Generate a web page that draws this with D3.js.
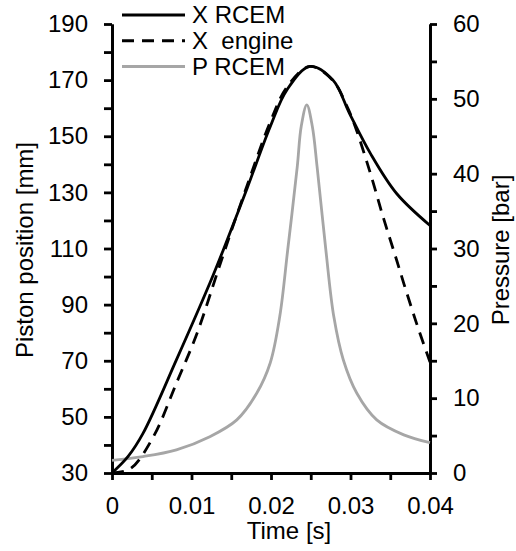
<!DOCTYPE html>
<html>
<head>
<meta charset="utf-8">
<script src="https://cdn.jsdelivr.net/npm/d3@7"></script>
<style>
    body { margin: 0; background: #fff; }
    svg text { font-family: "Liberation Sans", Arial, sans-serif; fill: #000; }
</style>
</head>
<body>
<svg id="chart" width="516" height="551"></svg>
<script>

// Piston position of the RCEM [mm]
const timeRcem = [0, 0.002, 0.0039, 0.0081, 0.0123, 0.014, 0.017, 0.0199, 0.022, 0.0249, 0.0278, 0.0299, 0.0325, 0.0358, 0.04];
const xRcem = [30, 35.8, 44.1, 70.3, 97.6, 109.5, 131.5, 153.4, 166.5, 174.9, 170, 158, 143.9, 129.6, 118.2];

// Piston position of the engine [mm]
const timeEngine = [0, 0.0023, 0.0052, 0.0081, 0.0107, 0.0132, 0.0142, 0.017, 0.0199, 0.022, 0.0249, 0.0278, 0.0295, 0.0306, 0.0325, 0.0341, 0.0358, 0.0367, 0.0383, 0.04];
const xEngine = [30, 31.5, 42.9, 62, 79.8, 101, 109.5, 132.5, 155, 167.5, 174.9, 169.8, 161, 153.4, 136.8, 121.3, 105.9, 97.6, 83.4, 69.5];

// Pressure in the RCEM [bar]
const timeP = [0, 0.0039, 0.0081, 0.0123, 0.0157, 0.0182, 0.0199, 0.0211, 0.0221, 0.0233, 0.0238, 0.0245, 0.0252, 0.0258, 0.0269, 0.0279, 0.0291, 0.0308, 0.0333, 0.0367, 0.04];
const pRcem = [1.7, 2.2, 3.1, 4.85, 7.1, 10.65, 14.7, 20.9, 29.8, 40.9, 46.3, 49.2, 46.3, 40.9, 29.8, 20.9, 15.1, 10.65, 7.1, 5.1, 4.05];

// Ticks
const xTicks = [0, 0.01, 0.02, 0.03, 0.04];
const xTickLabels = ["0", "0.01", "0.02", "0.03", "0.04"];
const xMinor = [0.005, 0.015, 0.025, 0.035];
const leftTicks = [30, 50, 70, 90, 110, 130, 150, 170, 190];
const leftMinor = [40, 60, 80, 100, 120, 140, 160, 180];
const rightTicks = [0, 10, 20, 30, 40, 50, 60];
const rightMinor = [5, 15, 25, 35, 45, 55];

const legendNames = ["X RCEM", "X  engine", "P RCEM"];

var svg = d3.select("#chart");

const margin = { top: 24, right: 86, bottom: 78, left: 112 };
const width = 516, height = 551;
const innerWidth = width - margin.left - margin.right;
const innerHeight = height - margin.top - margin.bottom;

const fontSize = 24;
const lineW = 2.8;

var xScale = d3.scaleLinear().domain([0, 0.04]).range([margin.left, margin.left + innerWidth]);
var yLeft = d3.scaleLinear().domain([30, 190]).range([margin.top + innerHeight, margin.top]);
var yRight = d3.scaleLinear().domain([0, 60]).range([margin.top + innerHeight, margin.top]);

function styleAxis(g) {
    g.select(".domain").attr("stroke", "#000").attr("stroke-width", lineW);
    g.selectAll(".tick line").attr("stroke", "#000").attr("stroke-width", lineW);
    g.selectAll(".tick text").style("font-size", fontSize + "px").attr("fill", "#000");
}

// minor ticks first, then major axes with labels
svg.append("g")
    .attr("transform", `translate(0,${margin.top + innerHeight})`)
    .call(d3.axisBottom(xScale).tickValues(xMinor).tickSize(7).tickSizeOuter(0).tickFormat(""))
    .call(styleAxis);
svg.append("g")
    .attr("transform", `translate(${margin.left},0)`)
    .call(d3.axisLeft(yLeft).tickValues(leftMinor).tickSize(8).tickSizeOuter(0).tickFormat(""))
    .call(styleAxis);
svg.append("g")
    .attr("transform", `translate(${margin.left + innerWidth},0)`)
    .call(d3.axisRight(yRight).tickValues(rightMinor).tickSize(7).tickSizeOuter(0).tickFormat(""))
    .call(styleAxis);

svg.append("g")
    .attr("transform", `translate(0,${margin.top + innerHeight})`)
    .call(d3.axisBottom(xScale).tickValues(xTicks).tickSize(7).tickSizeOuter(0).tickPadding(17)
        .tickFormat((d, i) => xTickLabels[i]))
    .call(styleAxis);

svg.append("g")
    .attr("transform", `translate(${margin.left},0)`)
    .call(d3.axisLeft(yLeft).tickValues(leftTicks).tickSize(8).tickSizeOuter(0).tickPadding(16))
    .call(styleAxis);

svg.append("g")
    .attr("transform", `translate(${margin.left + innerWidth},0)`)
    .call(d3.axisRight(yRight).tickValues(rightTicks).tickSize(7).tickSizeOuter(0).tickPadding(16))
    .call(styleAxis);

// Axis titles
svg.append("text")
    .attr("x", 289)
    .attr("y", 539)
    .style("text-anchor", "middle")
    .style("font-size", fontSize + "px")
    .text("Time [s]");

svg.append("text")
    .attr("transform", "rotate(-90)")
    .attr("x", -250)
    .attr("y", 33)
    .style("text-anchor", "middle")
    .style("font-size", fontSize + "px")
    .text("Piston position [mm]");

svg.append("text")
    .attr("transform", "rotate(-90)")
    .attr("x", -250)
    .attr("y", 509)
    .style("text-anchor", "middle")
    .style("font-size", fontSize + "px")
    .text("Pressure [bar]");

// Lines
var curve = d3.curveCatmullRom.alpha(0.5);

var lineP = d3.line()
    .x((d, i) => xScale(timeP[i]))
    .y(d => yRight(d))
    .curve(curve);
svg.append("path")
    .datum(pRcem)
    .attr("fill", "none")
    .attr("stroke", "#a6a6a6")
    .attr("stroke-width", lineW)
    .attr("d", lineP);

var lineEngine = d3.line()
    .x((d, i) => xScale(timeEngine[i]))
    .y(d => yLeft(d))
    .curve(curve);
svg.append("path")
    .datum(xEngine)
    .attr("fill", "none")
    .attr("stroke", "#000")
    .attr("stroke-width", lineW)
    .attr("stroke-dasharray", "12,8")
    .attr("d", lineEngine);

var lineRcem = d3.line()
    .x((d, i) => xScale(timeRcem[i]))
    .y(d => yLeft(d))
    .curve(curve);
svg.append("path")
    .datum(xRcem)
    .attr("fill", "none")
    .attr("stroke", "#000")
    .attr("stroke-width", lineW)
    .attr("d", lineRcem);

// Legend
var legendStroke = ["#000", "#000", "#a6a6a6"];
var legendDash = [null, "12,8", null];
var legend = svg.append("g").attr("transform", "translate(122,15)");

legend.selectAll(".legend-item")
    .data(legendNames)
    .enter()
    .append("g")
    .attr("class", "legend-item")
    .attr("transform", (d, i) => `translate(0, ${i * 25.7})`)
    .each(function (d, i) {
        d3.select(this).append("line")
            .attr("x1", 0)
            .attr("x2", 63)
            .attr("stroke", legendStroke[i])
            .attr("stroke-width", lineW + 0.2)
            .attr("stroke-dasharray", legendDash[i]);
        d3.select(this).append("text")
            .attr("x", 70)
            .attr("dy", "0.35em")
            .style("font-size", fontSize + "px")
            .style("white-space", "pre")
            .text(d);
    });

</script>
</body>
</html>
